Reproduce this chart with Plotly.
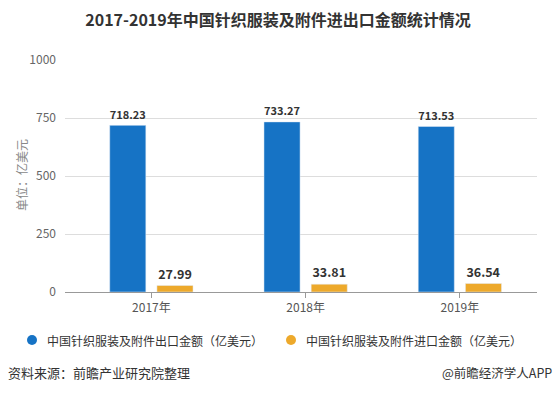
import plotly.graph_objects as go

years = ["2017年", "2018年", "2019年"]
export_vals = [718.23, 733.27, 713.53]
import_vals = [27.99, 33.81, 36.54]
export_name = "中国针织服装及附件出口金额（亿美元）"
import_name = "中国针织服装及附件进口金额（亿美元）"
y_ticks = [0, 250, 500, 750, 1000]

BLUE = "#1673C5"
ORANGE = "#EDA92B"
FONT = "Noto Sans CJK SC"

W, H = 556, 393
L, R, T, B = 65, 19, 60, 101
PW, PH = W - L - R, H - T - B


def px(x):
    return (x - L) / PW


def py(y):
    return (H - B - y) / PH


xs = list(range(len(years)))
fig = go.Figure()
fig.add_trace(go.Bar(
    x=xs, y=export_vals, width=0.234, offset=-0.27, marker_color=BLUE,
    text=[f"{v:.2f}" for v in export_vals], textposition="outside",
    textfont=dict(size=12.5, color="#333333", family=FONT, weight="bold"),
    cliponaxis=False, showlegend=False, name=export_name))
fig.add_trace(go.Bar(
    x=xs, y=import_vals, width=0.234, offset=0.036, marker_color=ORANGE,
    text=[f"{v:.2f}" for v in import_vals], textposition="outside",
    textfont=dict(size=12.5, color="#333333", family=FONT, weight="bold"),
    cliponaxis=False, showlegend=False, name=import_name))

legend_y = py(340)
shapes = []
for cx, col in [(32, BLUE), (291, ORANGE)]:
    shapes.append(dict(type="circle", xref="paper", yref="paper",
                       x0=px(cx - 5), x1=px(cx + 5), y0=py(340 + 5), y1=py(340 - 5),
                       fillcolor=col, line=dict(width=0)))

annotations = [
    dict(text=export_name, xref="paper", yref="paper", x=px(45), y=legend_y,
         xanchor="left", yanchor="middle", showarrow=False,
         font=dict(size=12, color="#333333", family=FONT)),
    dict(text=import_name, xref="paper", yref="paper", x=px(304), y=legend_y,
         xanchor="left", yanchor="middle", showarrow=False,
         font=dict(size=12, color="#333333", family=FONT)),
    dict(text="资料来源：前瞻产业研究院整理", xref="paper", yref="paper",
         x=px(6), y=py(372), xanchor="left", yanchor="middle",
         showarrow=False, font=dict(size=13, color="#333333", family=FONT)),
    dict(text="@前瞻经济学人APP", xref="paper", yref="paper",
         x=px(554), y=py(372), xanchor="right", yanchor="middle",
         showarrow=False, font=dict(size=12.5, color="#333333", family=FONT)),
    dict(text="单位：亿美元", xref="paper", yref="paper", x=px(21), y=py(175),
         xanchor="center", yanchor="middle", textangle=-90, showarrow=False,
         font=dict(size=12, color="#888888", family=FONT)),
]

fig.update_layout(
    width=W, height=H,
    margin=dict(l=L, r=R, t=T, b=B, autoexpand=False),
    paper_bgcolor="white", plot_bgcolor="white",
    font=dict(family=FONT, size=12, color="#555555"),
    title=dict(text="2017-2019年中国针织服装及附件进出口金额统计情况",
               x=0.5, xanchor="center", y=1 - 20 / H, yanchor="middle",
               font=dict(size=16, color="#333333", family=FONT, weight="bold")),
    bargap=0, barmode="overlay", showlegend=False,
    xaxis=dict(range=[-0.56, 2.5], tickmode="array", tickvals=xs, ticktext=years,
               showgrid=False, showline=True, linecolor="#999999", linewidth=1,
               ticks="outside", ticklen=5, tickcolor="#999999", automargin=False,
               tickfont=dict(size=12, color="#555555"), zeroline=False, fixedrange=True),
    yaxis=dict(range=[0, 1000], tickvals=y_ticks, showgrid=True, gridcolor="#dddddd",
               gridwidth=1, zeroline=False, showline=False, ticks="", automargin=False,
               tickfont=dict(size=12, color="#666666"), ticklabelstandoff=8,
               fixedrange=True),
    shapes=shapes,
    annotations=annotations,
)
fig.write_html("out.html", config={"displayModeBar": False, "staticPlot": True},
               post_script="document.body.style.margin='0';document.body.style.overflow='hidden';")
